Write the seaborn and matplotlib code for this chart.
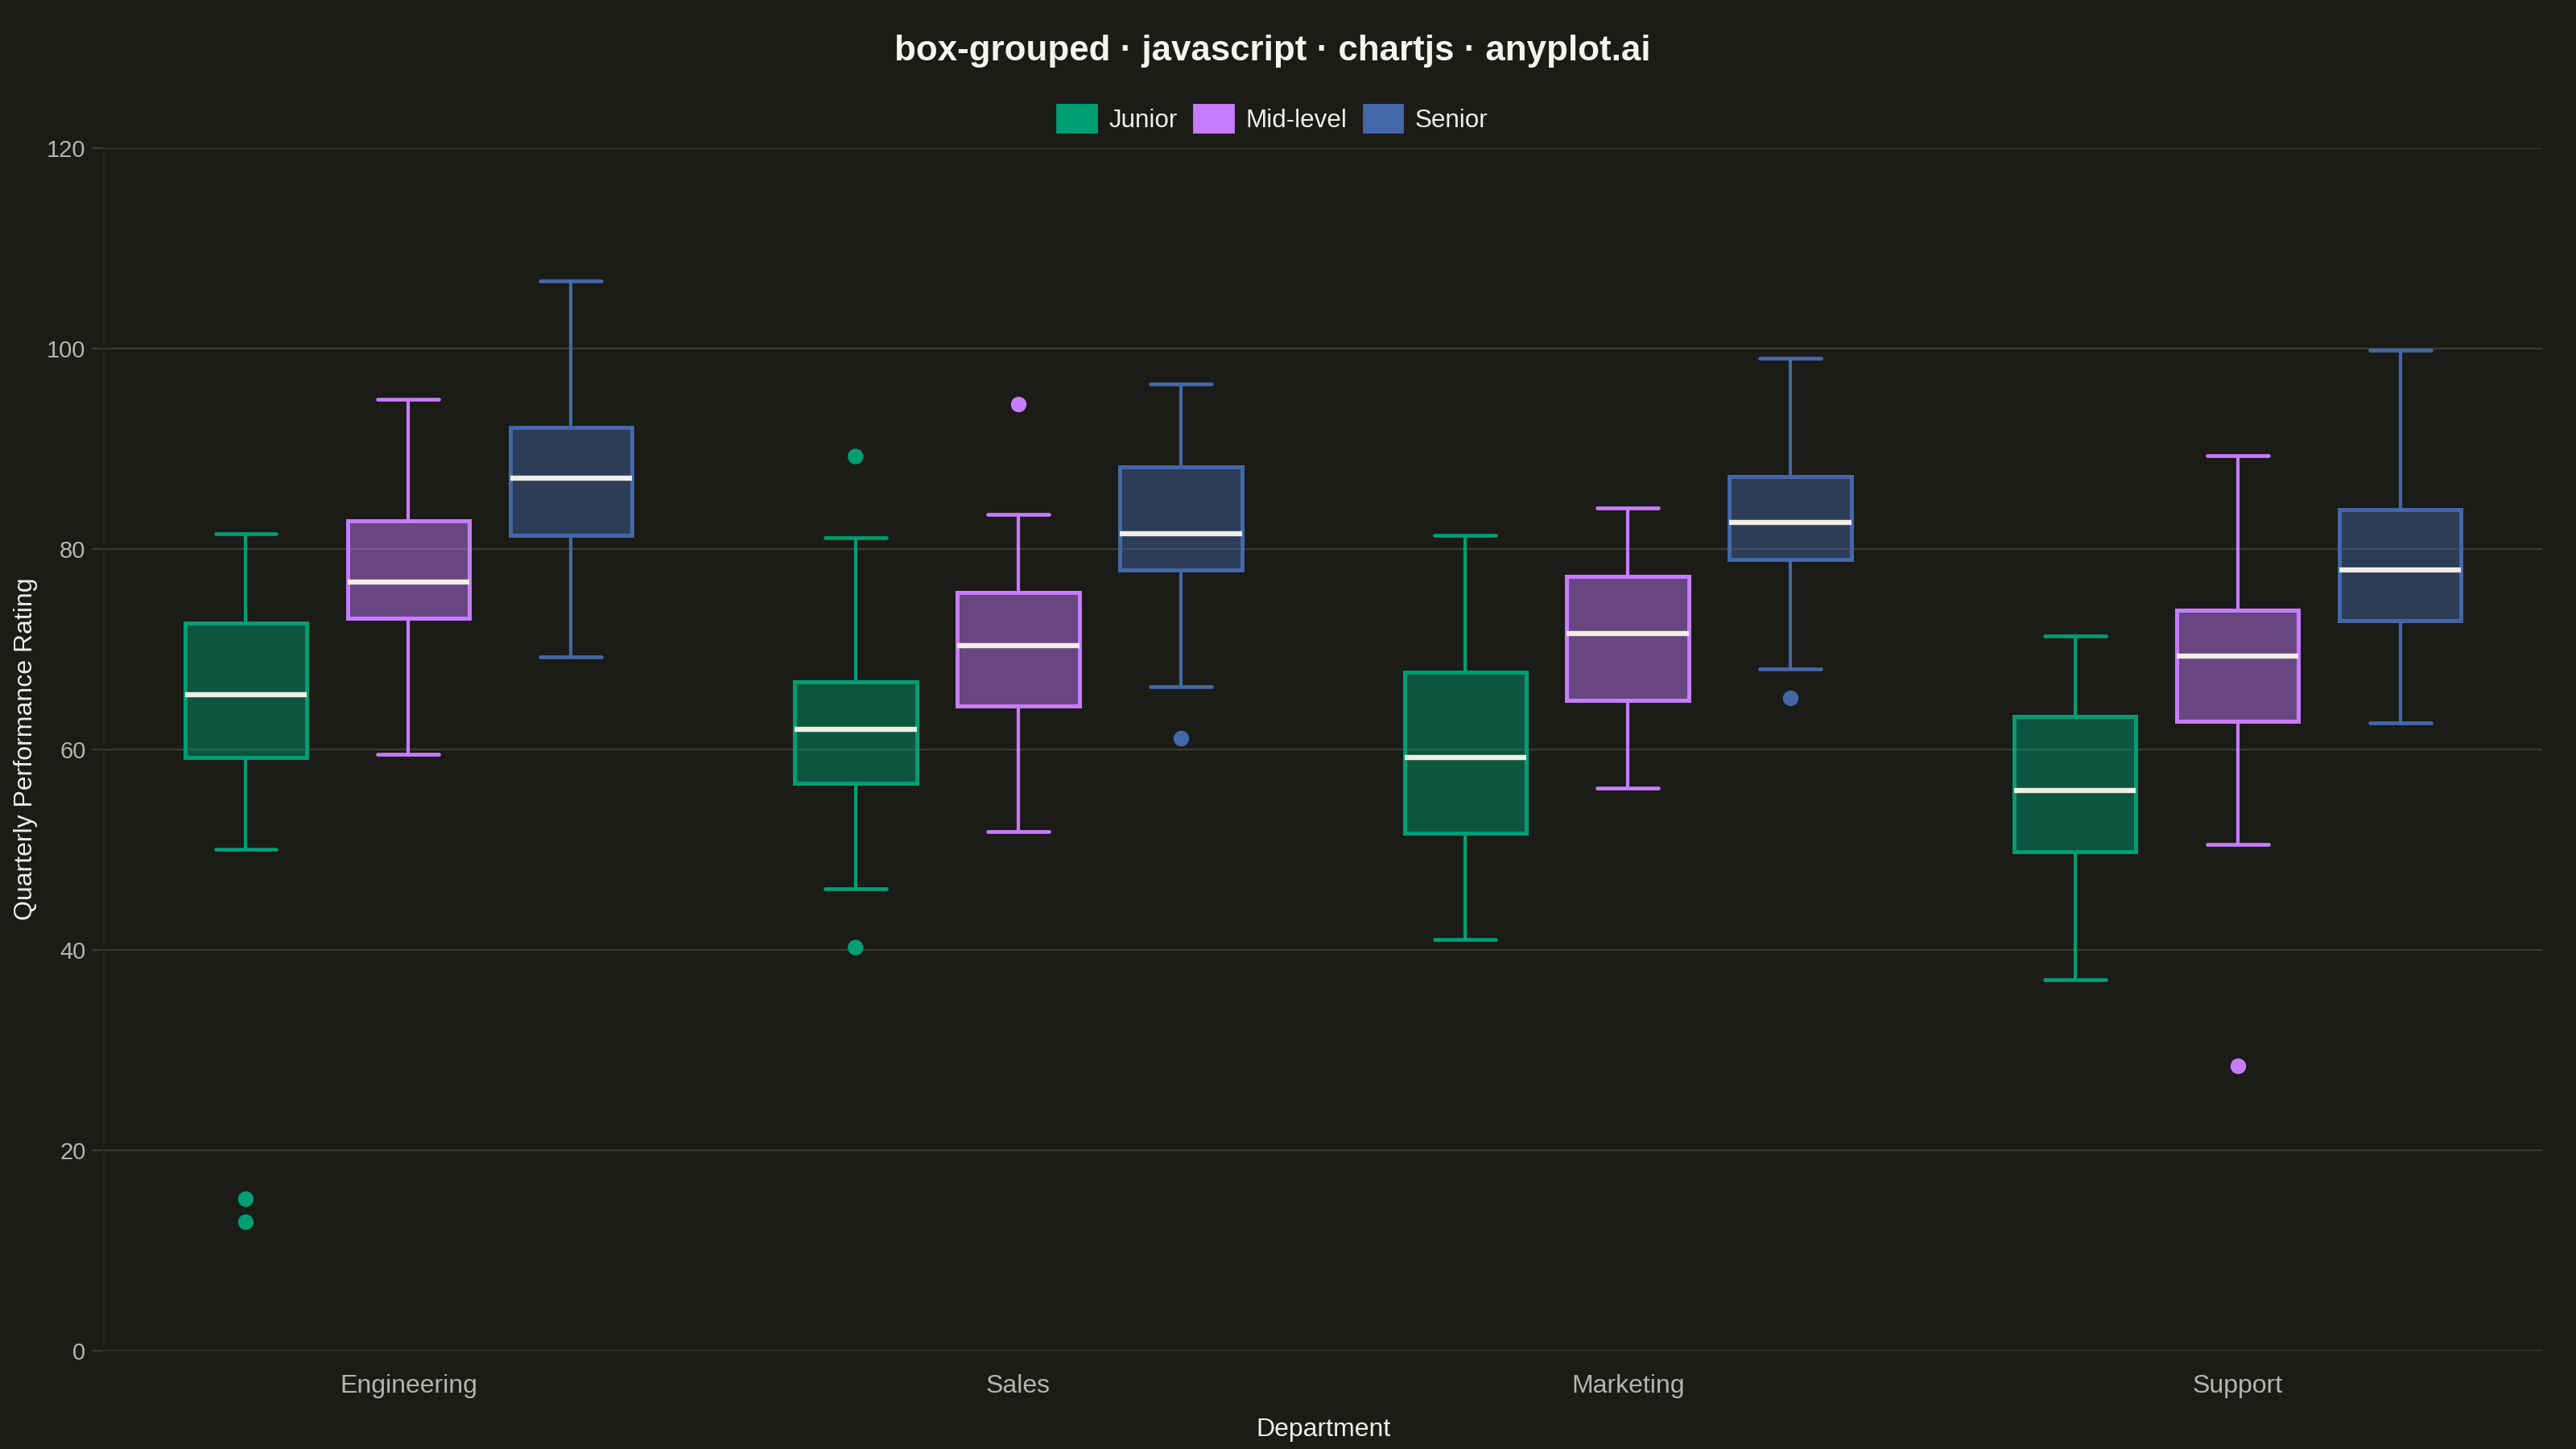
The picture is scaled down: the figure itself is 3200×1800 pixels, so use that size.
import pandas as pd
import matplotlib.pyplot as plt
import seaborn as sns
from matplotlib.colors import to_rgba
from matplotlib.patches import Patch

# Datos: resumen de cinco números por grupo
# (bigote inferior, Q1, mediana, Q3, bigote superior)
departments = ["Engineering", "Sales", "Marketing", "Support"]
levels = ["Junior", "Mid-level", "Senior"]

junior = [
    [50.0, 59.2, 65.4, 72.6, 81.5],
    [46.1, 56.6, 62.0, 66.7, 81.1],
    [41.0, 51.6, 59.2, 67.7, 81.3],
    [37.0, 49.8, 55.9, 63.3, 71.3],
]
mid_level = [
    [59.5, 73.1, 76.7, 82.8, 94.9],
    [51.8, 64.3, 70.3, 75.6, 83.4],
    [56.1, 64.9, 71.5, 77.2, 84.1],
    [50.5, 62.8, 69.3, 73.9, 89.3],
]
senior = [
    [69.2, 81.3, 87.0, 92.1, 106.7],
    [66.2, 77.9, 81.5, 88.2, 96.4],
    [68.0, 78.9, 82.6, 87.2, 99.0],
    [62.6, 72.8, 77.9, 83.9, 99.8],
]

# Valores atípicos
outlier_dept = ["Engineering", "Engineering", "Sales", "Sales", "Sales", "Sales", "Marketing", "Support"]
outlier_level = ["Junior", "Junior", "Junior", "Junior", "Mid-level", "Senior", "Senior", "Mid-level"]
outlier_value = [15.1, 12.8, 89.2, 40.2, 94.4, 61.1, 65.1, 28.4]

colors = ["#009E73", "#C77CFF", "#4467A8"]
bg = "#1B1B17"
grid_col = "#3B3B36"

# Tabla larga para seaborn
rows = []
for lvl, summaries in zip(levels, [junior, mid_level, senior]):
    for dept, vals in zip(departments, summaries):
        for v in vals:
            rows.append({"Department": dept, "Level": lvl, "Rating": v})
df = pd.DataFrame(rows)
df_out = pd.DataFrame({"Department": outlier_dept, "Level": outlier_level, "Rating": outlier_value})

# Configuración estética
sns.set_theme(style="dark", rc={
    "figure.facecolor": bg,
    "axes.facecolor": bg,
    "savefig.facecolor": bg,
})
plt.rcParams['font.family'] = ['Liberation Sans', 'DejaVu Sans']

fig = plt.figure(figsize=(16, 9), dpi=200)
ax = fig.add_axes([0.0402, 0.068, 0.9468, 0.830])

sns.boxplot(
    data=df, x="Department", y="Rating", hue="Level",
    order=departments, hue_order=levels, palette=colors,
    whis=(0, 100), width=0.8, gap=0.25, linewidth=1.8,
    medianprops=dict(color="#F0EEE6", linewidth=2.3),
    whiskerprops=dict(linewidth=1.5), capprops=dict(linewidth=1.7),
    legend=False, ax=ax,
)

# Relleno translúcido y bordes del color de cada nivel
for cont, col in zip(ax.containers, colors):
    for b in cont.boxes:
        b.set_facecolor(to_rgba(col, 0.45))
        b.set_edgecolor(col)
    for ln in list(cont.whiskers) + list(cont.caps):
        ln.set_color(col)

sns.stripplot(
    data=df_out, x="Department", y="Rating", hue="Level",
    order=departments, hue_order=levels, palette=colors,
    dodge=True, jitter=False, size=7, linewidth=0,
    legend=False, ax=ax, zorder=3,
)

ax.set_ylim(0, 120)
ax.set_xlim(-0.5, 3.5)
ax.set_yticks(range(0, 121, 20))
ax.grid(axis="y", color=grid_col, linewidth=0.8)
ax.grid(axis="x", visible=False)
ax.set_axisbelow(True)
for side in ["top", "right", "bottom"]:
    ax.spines[side].set_visible(False)
ax.spines["left"].set_color("#252521")
ax.spines["left"].set_linewidth(0.6)

ax.tick_params(axis="y", colors=grid_col, labelcolor="#B5B5AD", labelsize=10.5,
               length=5.5, width=0.8, pad=2.5, left=True)
ax.tick_params(axis="x", labelcolor="#B5B5AD", labelsize=11.5, length=0, pad=10.5)

ax.set_xlabel("Department", color="#F0F0E8", fontsize=11.5, labelpad=8.6)
ax.set_ylabel("Quarterly Performance Rating", color="#F0F0E8", fontsize=11.5, labelpad=4)

handles = [Patch(facecolor=c, edgecolor=c, label=l) for c, l in zip(colors, levels)]
fig.legend(handles=handles, loc="center", bbox_to_anchor=(0.494, 0.918), ncol=3,
           frameon=False, fontsize=11.3, handlelength=1.55, handleheight=1.26,
           handletextpad=0.5, columnspacing=0.65, labelcolor="#F0F0E8")

fig.text(0.494, 0.965, "box-grouped · javascript · chartjs · anyplot.ai",
         ha="center", va="center", fontsize=15.8, fontweight="bold", color="#F5F5EF")

fig.savefig("out.png", dpi=200, facecolor=bg)
